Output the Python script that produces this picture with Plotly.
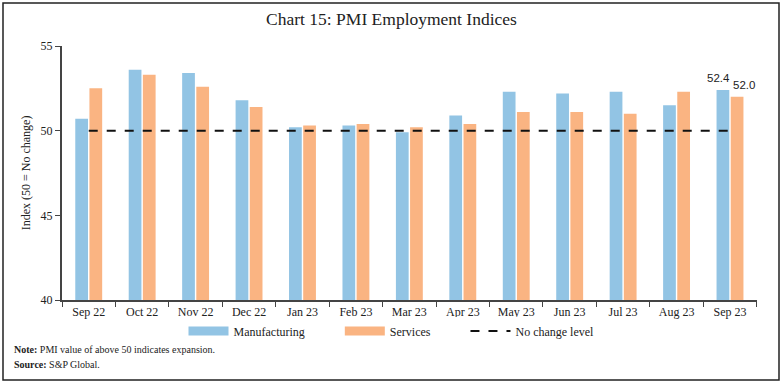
import plotly.graph_objects as go

months = ["Sep 22", "Oct 22", "Nov 22", "Dec 22", "Jan 23", "Feb 23", "Mar 23",
          "Apr 23", "May 23", "Jun 23", "Jul 23", "Aug 23", "Sep 23"]
manufacturing = [50.7, 53.6, 53.4, 51.8, 50.2, 50.3, 49.9, 50.9, 52.3, 52.2, 52.3, 51.5, 52.4]
services = [52.5, 53.3, 52.6, 51.4, 50.3, 50.4, 50.2, 50.4, 51.1, 51.1, 51.0, 52.3, 52.0]
no_change = [50] * len(months)

blue = "#92C4E4"
orange = "#FAB482"
serif = "Liberation Serif"
sans = "Liberation Sans"
pad = "&nbsp;" * 10

fig = go.Figure()
fig.add_trace(go.Bar(x=months, y=manufacturing, name="Manufacturing", legendgroup="m",
                     showlegend=False, marker=dict(color=blue, line=dict(width=0))))
fig.add_trace(go.Bar(x=months, y=services, name="Services", legendgroup="s",
                     showlegend=False, marker=dict(color=orange, line=dict(width=0))))
fig.add_trace(go.Scatter(x=months, y=no_change, name="No change level", mode="lines",
                         showlegend=False, legendgroup="n",
                         line=dict(color="#111", width=2, dash="dash")))
# legend entries (wide swatches like the reference)
fig.add_trace(go.Scatter(x=[None], y=[None], mode="lines", name="Manufacturing" + pad,
                         legendgroup="m", line=dict(color=blue, width=9)))
fig.add_trace(go.Scatter(x=[None], y=[None], mode="lines", name="Services" + pad,
                         legendgroup="s", line=dict(color=orange, width=9)))
fig.add_trace(go.Scatter(x=[None], y=[None], mode="lines", name="No change level",
                         legendgroup="n", line=dict(color="#111", width=2, dash="dash")))

L, R, T, B = 62, 26, 46, 83
W, H = 783, 383
pw, ph = W - L - R, H - T - B

def px(x):
    return (x - L) / pw

def py(y):
    return (H - B - y) / ph

label_annotations = [
    dict(x=months[-1], y=manufacturing[-1], text=f"{manufacturing[-1]:.1f}", xref="x", yref="y",
         xshift=-12, yshift=4, xanchor="center", yanchor="bottom", showarrow=False,
         font=dict(family=sans, size=11.5, color="#222")),
    dict(x=months[-1], y=services[-1], text=f"{services[-1]:.1f}", xref="x", yref="y",
         xshift=14, yshift=4, xanchor="center", yanchor="bottom", showarrow=False,
         font=dict(family=sans, size=11.5, color="#222")),
]

fig.update_layout(
    width=W, height=H,
    margin=dict(l=L, r=R, t=T, b=B, autoexpand=False),
    paper_bgcolor="white", plot_bgcolor="white",
    barmode="group", bargap=0.47, bargroupgap=0.1,
    font=dict(family=serif, size=12, color="#222"),
    title=dict(text="Chart 15: PMI Employment Indices", x=0.5, xanchor="center",
               y=1 - 19 / H, yanchor="middle", xref="container", yref="container",
               font=dict(family=serif, size=17.5, color="#222")),
    showlegend=True,
    legend=dict(orientation="h", x=0.5, xanchor="center", xref="container",
                y=py(331), yanchor="middle",
                font=dict(family=serif, size=12, color="#222"), traceorder="normal",
                itemwidth=40),
    xaxis=dict(showline=True, linecolor="#444", linewidth=2, ticks="outside",
               tickson="boundaries", ticklen=5, tickcolor="#444", tickwidth=1,
               tickfont=dict(family=serif, size=12, color="#222"), showgrid=False),
    yaxis=dict(range=[40, 55], tickvals=[40, 45, 50, 55], showline=True, linecolor="#444",
               linewidth=2, ticks="outside", ticklen=5, tickcolor="#444", showgrid=False,
               zeroline=False, tickfont=dict(family=serif, size=12, color="#222"),
               title=dict(text="Index (50 = No change)", standoff=7,
                          font=dict(family=serif, size=12, color="#222"))),
    shapes=[dict(type="rect", xref="paper", yref="paper", x0=px(3), x1=px(779),
                 y0=py(380), y1=py(3), line=dict(color="#222", width=1.5),
                 fillcolor="rgba(0,0,0,0)", layer="below")],
    annotations=label_annotations + [
        dict(text="<b>Note:</b> PMI value of above 50 indicates expansion.", xref="paper",
             yref="paper", x=px(12), y=py(349), xanchor="left", yanchor="middle",
             showarrow=False, font=dict(family=serif, size=10, color="#222")),
        dict(text="<b>Source:</b> S&P Global.", xref="paper", yref="paper", x=px(12),
             y=py(364), xanchor="left", yanchor="middle", showarrow=False,
             font=dict(family=serif, size=10, color="#222")),
    ],
)

fig.write_html("out.html", config={"displayModeBar": False},
               post_script="document.body.style.margin='0';document.body.style.padding='0';")
